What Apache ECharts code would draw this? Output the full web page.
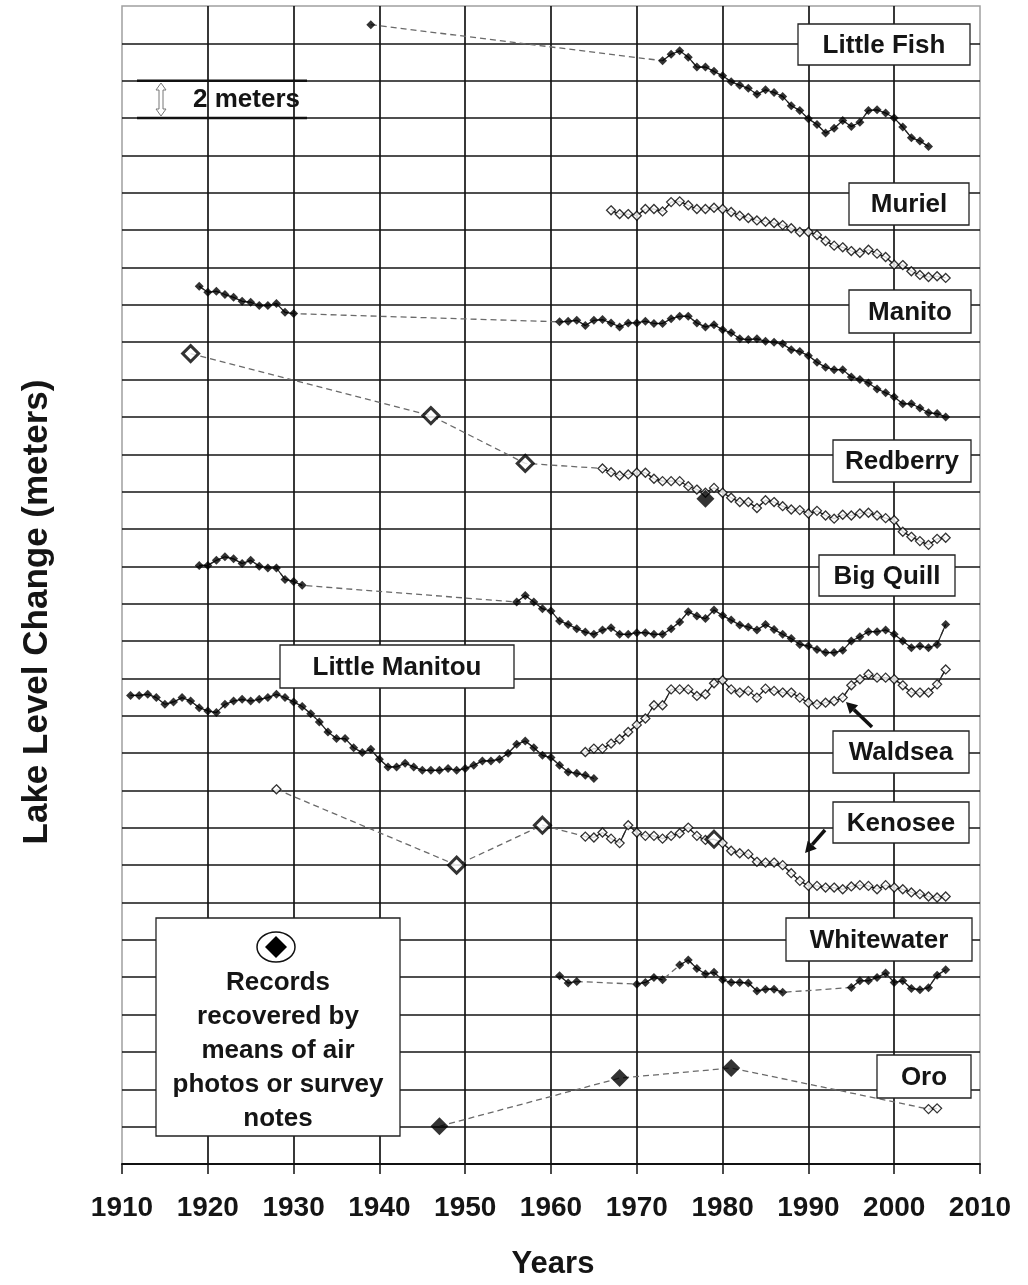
<!DOCTYPE html>
<html>
<head>
<meta charset="utf-8">
<title>Lake Level Change</title>
<script src="https://cdn.jsdelivr.net/npm/echarts@6/dist/echarts.min.js"></script>
<style>
  html, body { margin: 0; padding: 0; background: #fff; }
  #chart { width: 1028px; height: 1285px; }
</style>
</head>
<body>
<div id="chart"></div>
<script>
// each lake: list of runs [firstYear, [annual levels in m]]; gaps between runs are dashed
const littleFish = [
  [1939, [61.0]],
  [1973, [59.07, 59.42, 59.60, 59.26, 58.73, 58.73, 58.50, 58.26, 57.94, 57.76,
          57.59, 57.27, 57.51, 57.37, 57.16, 56.66, 56.41, 55.96, 55.66, 55.20,
          55.45, 55.87, 55.55, 55.78, 56.41, 56.44, 56.27, 56.00, 55.52, 54.95,
          54.77, 54.48]]
]
const muriel = [
  [1967, [51.06, 50.86, 50.86, 50.77, 51.13, 51.13, 51.00, 51.50, 51.54, 51.33,
          51.13, 51.13, 51.20, 51.13, 50.97, 50.77, 50.65, 50.52, 50.45, 50.38,
          50.27, 50.10, 49.90, 49.90, 49.74, 49.42, 49.17, 49.08, 48.88, 48.79,
          48.95, 48.74, 48.56, 48.15, 48.13, 47.80, 47.60, 47.49, 47.53, 47.44]]
]
const manito = [
  [1919, [46.99, 46.67, 46.73, 46.55, 46.40, 46.19, 46.14, 45.96, 45.96, 46.07, 45.60, 45.53]],
  [1961, [45.09, 45.12, 45.17, 44.89, 45.17, 45.21, 45.03, 44.82, 45.03, 45.03,
          45.12, 45.00, 45.00, 45.26, 45.39, 45.39, 45.03, 44.82, 44.94, 44.67,
          44.50, 44.18, 44.14, 44.18, 44.05, 44.00, 43.91, 43.60, 43.50, 43.28,
          42.93, 42.66, 42.53, 42.53, 42.14, 42.00, 41.82, 41.50, 41.29, 41.07,
          40.70, 40.70, 40.48, 40.22, 40.18, 40.00]]
]
const redberry = [
  [1918, [43.39]],
  [1946, [40.07]],
  [1957, [37.51]],
  [1966, [37.24, 37.04, 36.86, 36.92, 37.01, 37.01, 36.69, 36.56, 36.56, 36.56,
          36.29, 36.11, 35.94, 36.20, 35.94, 35.67, 35.44, 35.44, 35.12, 35.54,
          35.44, 35.22, 35.04, 35.01, 34.83, 34.97, 34.72, 34.55, 34.76, 34.72,
          34.83, 34.87, 34.72, 34.58, 34.47, 33.85, 33.58, 33.35, 33.15, 33.47, 33.53]]
]
const bigQuill = [
  [1919, [32.05, 32.05, 32.32, 32.51, 32.40, 32.15, 32.32, 32.01, 31.91, 31.91, 31.30, 31.19, 30.98]],
  [1956, [30.09, 30.44, 30.09, 29.73, 29.61, 29.07, 28.89, 28.66, 28.48, 28.36,
          28.59, 28.71, 28.36, 28.36, 28.45, 28.45, 28.36, 28.36, 28.66, 29.02,
          29.57, 29.34, 29.20, 29.66, 29.37, 29.12, 28.86, 28.75, 28.59, 28.89,
          28.62, 28.36, 28.13, 27.82, 27.73, 27.55, 27.38, 27.38, 27.50, 28.00,
          28.23, 28.50, 28.50, 28.59, 28.36, 28.00, 27.64, 27.73, 27.64, 27.82, 28.89]]
]
const littleManitou = [
  [1911, [25.09, 25.09, 25.15, 24.97, 24.61, 24.74, 24.97, 24.79, 24.43, 24.26,
          24.17, 24.61, 24.79, 24.88, 24.79, 24.88, 24.97, 25.15, 24.97, 24.74,
          24.49, 24.11, 23.67, 23.13, 22.78, 22.78, 22.29, 22.03, 22.20, 21.67,
          21.26, 21.26, 21.46, 21.26, 21.08, 21.08, 21.08, 21.17, 21.08, 21.17,
          21.35, 21.58, 21.58, 21.67, 21.99, 22.47, 22.65, 22.29, 21.88, 21.76,
          21.35, 20.99, 20.92, 20.81, 20.64]]
]
const waldsea = [
  [1964, [22.06, 22.24, 22.24, 22.51, 22.74, 23.13, 23.51, 23.85, 24.56, 24.56,
          25.41, 25.41, 25.41, 25.06, 25.15, 25.74, 25.90, 25.41, 25.24, 25.33,
          24.97, 25.45, 25.33, 25.24, 25.24, 24.97, 24.70, 24.61, 24.70, 24.79,
          24.97, 25.63, 25.95, 26.22, 26.04, 26.04, 25.95, 25.63, 25.24, 25.24,
          25.24, 25.68, 26.48]]
]
const kenosee = [
  [1928, [20.06]],
  [1949, [16.00]],
  [1959, [18.14]],
  [1964, [17.53, 17.48, 17.75, 17.42, 17.18, 18.14, 17.75, 17.57, 17.57, 17.42,
          17.57, 17.71, 18.01, 17.57, 17.35, 17.39, 17.18, 16.77, 16.64, 16.59,
          16.18, 16.14, 16.14, 16.00, 15.57, 15.16, 14.89, 14.89, 14.80, 14.80,
          14.71, 14.86, 14.93, 14.89, 14.71, 14.93, 14.80, 14.71, 14.54, 14.45,
          14.32, 14.27, 14.32]]
]
const whitewater = [
  [1961, [10.08, 9.69, 9.77]],
  [1970, [9.63, 9.72, 9.99, 9.86]],
  [1975, [10.65, 10.92, 10.47, 10.17, 10.26, 9.86, 9.72, 9.72, 9.69, 9.26, 9.36, 9.36, 9.19]],
  [1995, [9.45, 9.81, 9.81, 9.99, 10.22, 9.72, 9.81, 9.40, 9.33, 9.44, 10.11, 10.40]]
]
const oro = [
  [1947, [2.02]],
  [1968, [4.60]],
  [1981, [5.14]],
  [2004, [2.94, 2.98]]
]

// years recovered from air photos / survey notes
const redberryOpenRecords = [1918, 1946, 1957]
const kenoseeOpenRecords = [1949, 1959, 1979]
const oroFilledRecords = [1947, 1968, 1981]
const redberryAirPhoto = [[1978, 35.62]]

const lakeNames = ['Little Fish', 'Muriel', 'Manito', 'Redberry', 'Big Quill',
  'Little Manitou', 'Waldsea', 'Kenosee', 'Whitewater', 'Oro']
const yearTicks = [1910, 2010, 10]
const levelTicks = [0, 62, 2]

const FONT = '"Liberation Sans", Arial, Helvetica, sans-serif'

const lakes = [
  { runs: littleFish, hollow: false },
  { runs: muriel, hollow: true },
  { runs: manito, hollow: false },
  { runs: redberry, hollow: true, open: redberryOpenRecords },
  { runs: bigQuill, hollow: false },
  { runs: littleManitou, hollow: false },
  { runs: waldsea, hollow: true },
  { runs: kenosee, hollow: true, open: kenoseeOpenRecords },
  { runs: whitewater, hollow: false },
  { runs: oro, hollow: true, filled: oroFilledRecords }
]

const runPoints = run => run[1].map((v, k) => [run[0] + k, v])

const series = []
lakes.forEach((lake, i) => {
  const all = lake.runs.flatMap(runPoints)
  // dashed connector through everything (shows in the gaps)
  series.push({
    name: lakeNames[i] + ' gaps', type: 'line', data: all, symbol: 'none', z: 2,
    lineStyle: { color: '#6a6a6a', width: 1.3, type: [6, 4] }, silent: true
  })
  lake.runs.forEach(run => {
    if (run[1].length < 2) return
    series.push({
      name: lakeNames[i], type: 'line', data: runPoints(run), symbol: 'none', z: 3,
      lineStyle: { color: '#222', width: 1.2 }, silent: true
    })
  })
  series.push({
    name: lakeNames[i] + ' points', type: 'scatter', z: 4, symbol: 'diamond',
    data: all.map(p => {
      if (lake.open && lake.open.includes(p[0])) {
        return { value: p, symbolSize: 16, itemStyle: { color: '#fff', borderColor: '#000', borderWidth: 3 } }
      }
      if (lake.filled && lake.filled.includes(p[0])) {
        return { value: p, symbolSize: 18, itemStyle: { color: '#000', borderWidth: 0 } }
      }
      return lake.hollow
        ? { value: p, symbolSize: 9, itemStyle: { color: '#fff', borderColor: '#000', borderWidth: 1.3 } }
        : { value: p, symbolSize: 9, itemStyle: { color: '#000', borderWidth: 0 } }
    })
  })
})
series.push({
  name: 'Redberry air photo', type: 'scatter', z: 5, symbol: 'diamond', symbolSize: 18,
  data: redberryAirPhoto, itemStyle: { color: '#000' }
})

// label boxes: [text, x1, y1, x2, y2] in page pixels
const labelBoxes = [
  [lakeNames[0], 798, 24, 970, 65],
  [lakeNames[1], 849, 183, 969, 225],
  [lakeNames[2], 849, 290, 971, 333],
  [lakeNames[3], 833, 440, 971, 482],
  [lakeNames[4], 819, 555, 955, 596],
  [lakeNames[5], 280, 645, 514, 688],
  [lakeNames[6], 833, 731, 969, 773],
  [lakeNames[7], 833, 802, 969, 843],
  [lakeNames[8], 786, 918, 972, 961],
  [lakeNames[9], 877, 1055, 971, 1098]
]

const graphics = []
labelBoxes.forEach(b => {
  graphics.push({
    type: 'rect', z: 100,
    shape: { x: b[1], y: b[2], width: b[3] - b[1], height: b[4] - b[2] },
    style: { fill: '#fff', stroke: '#222', lineWidth: 1.3 }
  })
  graphics.push({
    type: 'text', z: 101, x: (b[1] + b[3]) / 2, y: (b[2] + b[4]) / 2 + 1,
    style: { text: b[0], align: 'center', verticalAlign: 'middle', font: 'bold 26px ' + FONT, fill: '#151515' }
  })
})

function arrow(x1, y1, x2, y2) {
  const len = Math.hypot(x2 - x1, y2 - y1)
  const dx = (x2 - x1) / len, dy = (y2 - y1) / len
  const bx = x2 - dx * 11, by = y2 - dy * 11
  return [
    { type: 'line', z: 100, shape: { x1, y1, x2: bx, y2: by }, style: { stroke: '#111', lineWidth: 3.5 } },
    { type: 'polygon', z: 100,
      shape: { points: [[x2, y2], [bx - dy * 6, by + dx * 6], [bx + dy * 6, by - dx * 6]] },
      style: { fill: '#111' } }
  ]
}
graphics.push(...arrow(872, 727, 846, 702))
graphics.push(...arrow(825, 830, 805, 853))

// 2 meter scale bar
graphics.push(
  { type: 'line', z: 100, shape: { x1: 137, y1: 80.7, x2: 307, y2: 80.7 }, style: { stroke: '#111', lineWidth: 2.5 } },
  { type: 'line', z: 100, shape: { x1: 137, y1: 118.1, x2: 307, y2: 118.1 }, style: { stroke: '#111', lineWidth: 2.5 } },
  { type: 'polygon', z: 100,
    shape: { points: [[161, 83], [166, 90], [163, 90], [163, 109], [166, 109], [161, 116],
                      [156, 109], [159, 109], [159, 90], [156, 90]] },
    style: { fill: '#fff', stroke: '#777', lineWidth: 1 } },
  { type: 'text', z: 101, x: 193, y: 100,
    style: { text: '2 meters', align: 'left', verticalAlign: 'middle', font: 'bold 26px ' + FONT, fill: '#151515' } }
)

// legend box
const legendLines = ['Records', 'recovered by', 'means of air', 'photos or survey', 'notes']
graphics.push(
  { type: 'rect', z: 100, shape: { x: 156, y: 918, width: 244, height: 218 },
    style: { fill: '#fff', stroke: '#222', lineWidth: 1.3 } },
  { type: 'ellipse', z: 101, shape: { cx: 276, cy: 947, rx: 19, ry: 15 },
    style: { fill: '#fff', stroke: '#111', lineWidth: 1.5 } },
  { type: 'polygon', z: 102, shape: { points: [[276, 936], [287, 947], [276, 958], [265, 947]] },
    style: { fill: '#000' } }
)
legendLines.forEach((t, k) => {
  graphics.push({
    type: 'text', z: 101, x: 278, y: 983 + k * 34,
    style: { text: t, align: 'center', verticalAlign: 'middle', font: 'bold 26px ' + FONT, fill: '#151515' }
  })
})

// axis titles
graphics.push(
  { type: 'text', z: 101, x: 37, y: 612, rotation: Math.PI / 2,
    style: { text: 'Lake Level Change (meters)', align: 'center', verticalAlign: 'middle', font: 'bold 35px ' + FONT, fill: '#151515' } },
  { type: 'text', z: 101, x: 553, y: 1264,
    style: { text: 'Years', align: 'center', verticalAlign: 'middle', font: 'bold 31px ' + FONT, fill: '#151515' } }
)

const option = {
  animation: false,
  backgroundColor: '#fff',
  grid: {
    left: 122, right: 48, top: 6, bottom: 121,
    show: true, backgroundColor: '#fff', borderColor: '#a0a0a0', borderWidth: 1.5
  },
  xAxis: {
    type: 'value',
    min: yearTicks[0], max: yearTicks[1], interval: yearTicks[2],
    axisLine: { show: true, onZero: false, lineStyle: { color: '#111', width: 2 } },
    axisTick: { show: true, length: 10, lineStyle: { color: '#111', width: 1.5 } },
    axisLabel: {
      color: '#151515', fontFamily: FONT, fontWeight: 'bold', fontSize: 28, margin: 30,
      formatter: v => String(v)
    },
    splitLine: { show: true, showMinLine: false, showMaxLine: false, lineStyle: { color: '#151515', width: 1.7 } }
  },
  yAxis: {
    type: 'value',
    min: levelTicks[0], max: levelTicks[1], interval: levelTicks[2],
    axisLine: { show: false },
    axisTick: { show: false },
    axisLabel: { show: false },
    splitLine: { show: true, showMinLine: false, showMaxLine: false, lineStyle: { color: '#151515', width: 1.6 } }
  },
  graphic: { elements: graphics },
  series: series
}

const chart = echarts.init(document.getElementById('chart'))
chart.setOption(option)
window.addEventListener('resize', () => chart.resize())
</script>
</body>
</html>
